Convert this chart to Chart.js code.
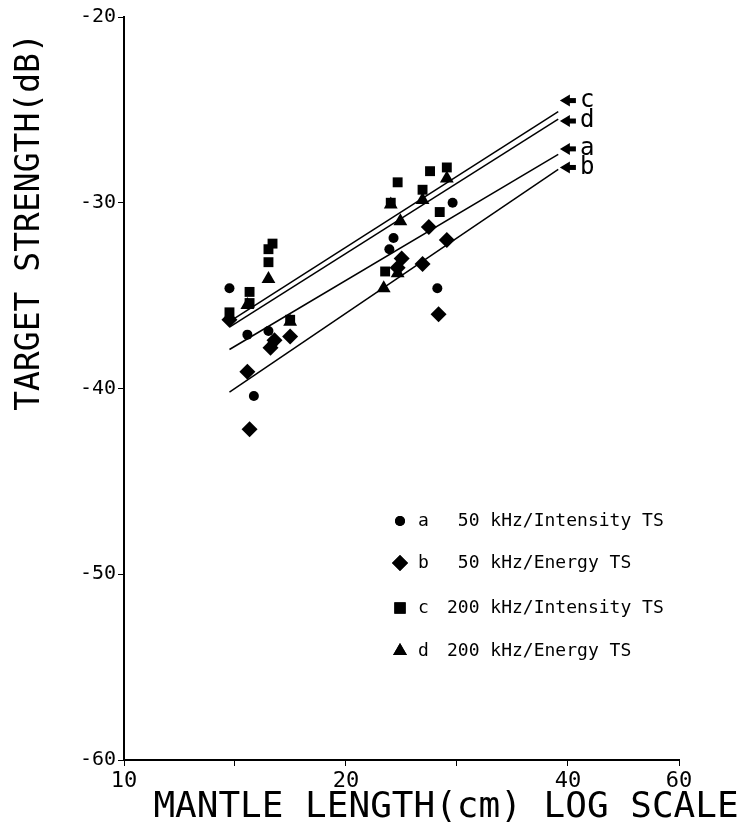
<!DOCTYPE html>
<html lang="en">
<head>
    <meta charset="UTF-8">
    <title>Target strength vs mantle length</title>
    <script src="https://cdn.jsdelivr.net/npm/chart.js"></script>
    <style>
        body { margin: 0; background: #fff; }
        canvas { display: block; }
    </style>
</head>
<body>
    <canvas id="tsChart" width="748" height="838"></canvas>

    <script>
        // x axis: log scale, ticks every half octave
        const xTickValues = [10, 14.14, 20, 28.28, 40, 56.57];
        const xTickLabels = ['10', '', '20', '', '40', '60'];

        // [mantle length cm, TS dB]
        const seriesA = [[13.9, -34.6], [14.7, -37.1], [15.0, -40.4], [15.7, -36.9], [15.9, -37.6],
                         [23.2, -31.9], [22.9, -32.5], [26.6, -34.6], [27.9, -30.0]];
        const seriesB = [[13.9, -36.3], [14.7, -39.1], [14.8, -42.2], [15.8, -37.8], [16.0, -37.4],
                         [16.8, -37.2], [23.5, -33.5], [23.8, -33.0], [25.4, -33.3], [25.9, -31.3],
                         [27.4, -32.0], [26.7, -36.0]];
        const seriesC = [[13.9, -35.9], [14.8, -34.8], [14.8, -35.4], [15.7, -32.5], [15.9, -32.2],
                         [15.7, -33.2], [16.8, -36.3], [22.6, -33.7], [23.5, -28.9], [23.0, -30.0],
                         [25.4, -29.3], [26.0, -28.3], [27.4, -28.1], [26.8, -30.5]];
        const seriesD = [[14.7, -35.5], [15.7, -34.1], [16.8, -36.4], [22.5, -34.6], [23.5, -33.8],
                         [23.7, -31.0], [23.0, -30.1], [25.4, -29.85], [27.4, -28.7]];

        // regression lines
        const fitX = [13.9, 38.8];
        const fitA = [-37.9, -27.4];
        const fitB = [-40.2, -28.2];
        const fitC = [-36.4, -25.1];
        const fitD = [-36.7, -25.5];

        // arrows at the line ends
        const arrowLetters = ['c', 'd', 'a', 'b'];
        const arrowY = [-24.5, -25.6, -27.1, -28.1];
        const arrowTipX = 39.0;
        const arrowTailX = 41.0;

        const legendLetters = ['a', 'b', 'c', 'd'];
        const legendTexts = [' 50 kHz/Intensity TS', ' 50 kHz/Energy TS', '200 kHz/Intensity TS', '200 kHz/Energy TS'];
        const legendStyles = ['circle', 'rectRot', 'rect', 'triangle'];

        const mono = "'DejaVu Sans Mono', monospace";

        const toXY = arr => arr.map(p => ({ x: p[0], y: p[1] }));
        const fitLine = ys => fitX.map((x, i) => ({ x, y: ys[i] }));

        function pointSet(label, arr, style, radius) {
            return {
                label, data: toXY(arr), pointStyle: style, pointRadius: radius,
                backgroundColor: '#000', borderColor: '#000', borderWidth: 0
            };
        }
        function lineSet(label, ys) {
            return {
                type: 'line', label, data: fitLine(ys), showLine: true,
                borderColor: '#000', borderWidth: 1.5, pointRadius: 0, fill: false
            };
        }

        const textPlugin = {
            id: 'texts',
            afterDraw(chart) {
                const ctx = chart.ctx;
                const xs = chart.scales.x, ys = chart.scales.y;
                ctx.save();
                ctx.fillStyle = '#000';

                // axis titles
                ctx.font = '36px ' + mono;
                ctx.textAlign = 'center';
                ctx.textBaseline = 'middle';
                ctx.fillText('MANTLE LENGTH(cm) LOG SCALE', 446, 808);
                ctx.save();
                ctx.translate(30, 222);
                ctx.rotate(-Math.PI / 2);
                ctx.font = '33px ' + mono;
                ctx.fillText('TARGET STRENGTH(dB)', 0, 0);
                ctx.restore();

                // arrows + letters
                arrowLetters.forEach((l, i) => {
                    const y = ys.getPixelForValue(arrowY[i]);
                    const x0 = xs.getPixelForValue(arrowTipX);
                    const x1 = xs.getPixelForValue(arrowTailX);
                    ctx.beginPath();
                    ctx.moveTo(x0, y);
                    ctx.lineTo(x0 + 10, y - 6);
                    ctx.lineTo(x0 + 10, y + 6);
                    ctx.closePath();
                    ctx.fill();
                    ctx.fillRect(x0 + 8, y - 2.5, x1 - x0 - 8, 5);
                    ctx.font = '24px ' + mono;
                    ctx.textAlign = 'left';
                    ctx.fillText(l, x1 + 4, y);
                });

                // legend
                const rows = [521, 563, 608, 651];
                legendLetters.forEach((l, i) => {
                    const y = rows[i];
                    Chart.helpers.drawPoint(ctx, {
                        pointStyle: legendStyles[i],
                        radius: legendStyles[i] === 'circle' ? 5 : 8,
                        rotation: 0, borderWidth: 0
                    }, 400, y);
                    ctx.fill();
                    ctx.font = '18px ' + mono;
                    ctx.textAlign = 'left';
                    ctx.fillText(l, 418, y);
                    ctx.fillText(legendTexts[i], 447, y);
                });
                ctx.restore();
            }
        };

        new Chart(document.getElementById('tsChart'), {
            type: 'scatter',
            data: {
                datasets: [
                    pointSet('a', seriesA, 'circle', 5),
                    pointSet('b', seriesB, 'rectRot', 8),
                    pointSet('c', seriesC, 'rect', 7),
                    pointSet('d', seriesD, 'triangle', 8),
                    lineSet('fit a', fitA),
                    lineSet('fit b', fitB),
                    lineSet('fit c', fitC),
                    lineSet('fit d', fitD)
                ]
            },
            options: {
                responsive: false,
                animation: false,
                layout: { padding: { top: 17, right: 69, bottom: 0, left: 0 } },
                plugins: { legend: { display: false }, tooltip: { enabled: false } },
                scales: {
                    x: {
                        type: 'logarithmic',
                        min: 10,
                        max: 56.57,
                        border: { color: '#000', width: 2 },
                        grid: { drawOnChartArea: false, color: '#000', tickLength: 6 },
                        afterBuildTicks: s => { s.ticks = xTickValues.map(v => ({ value: v })); },
                        afterFit: s => { s.height = 78; },
                        ticks: {
                            autoSkip: false, maxRotation: 0, color: '#000', padding: 2,
                            font: { family: mono, size: 22 },
                            callback: (v, i) => xTickLabels[i]
                        }
                    },
                    y: {
                        min: -60,
                        max: -20,
                        border: { color: '#000', width: 2 },
                        grid: { drawOnChartArea: false, color: '#000', tickLength: 6 },
                        afterFit: s => { s.width = 124; },
                        ticks: {
                            stepSize: 10, color: '#000', padding: 2,
                            font: { family: mono, size: 20 }
                        }
                    }
                }
            },
            plugins: [textPlugin]
        });
    </script>
</body>
</html>
